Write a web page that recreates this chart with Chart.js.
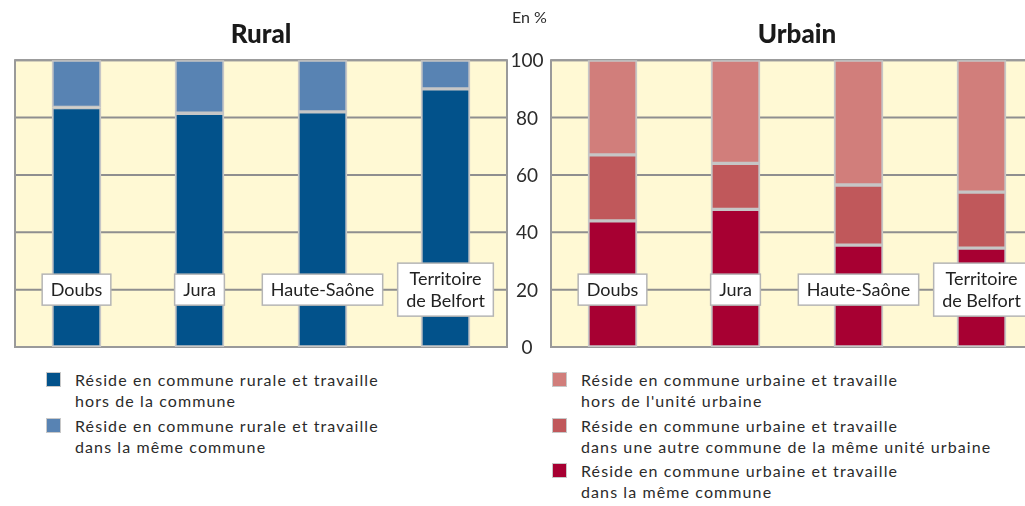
<!DOCTYPE html>
<html>
<head>
<meta charset="utf-8">
<script src="https://cdn.jsdelivr.net/npm/chart.js@4"></script>
<style>
  html, body { margin: 0; padding: 0; background: #fff; overflow: hidden; }
  body { width: 1025px; height: 506px; position: relative; font-family: Lato, sans-serif; color: #2b2b2b; }
  canvas { position: absolute; top: 0; }
  #rural { left: 0; }
  #urbain { left: 500px; }
  #unit { position: absolute; left: 512px; top: 7px; font-size: 16px; }
  .legend { position: absolute; top: 369px; font-size: 16px; line-height: 21px; letter-spacing: 1.1px; }
  .legend .item { position: relative; padding-left: 29px; margin-bottom: 3.5px; }
  .legend .sw { position: absolute; left: 0; top: 3px; width: 13px; height: 13px; border: 1px solid #c8c8c8; }
</style>
</head>
<body>
<canvas id="rural" width="520" height="360"></canvas>
<canvas id="urbain" width="550" height="360"></canvas>
<div id="unit">En %</div>
<div class="legend" id="legRural" style="left:46px"></div>
<div class="legend" id="legUrbain" style="left:552px"></div>
<script>
// categories and values (percent)
const categories = ['Doubs', 'Jura', 'Haute-Saône', ['Territoire', 'de Belfort']];
const yTicks = [0, 20, 40, 60, 80, 100];

// Rural
const ruralHorsCommune = [83.5, 81.5, 82, 90];
const ruralMemeCommune = [16.5, 18.5, 18, 10];

// Urbain
const urbainMemeCommune = [44, 48, 35.5, 34.5];
const urbainAutreCommune = [23, 16, 21, 19.5];
const urbainHorsUnite = [33, 36, 43.5, 46];

const labelY = 20; // value where category boxes sit

const frame = {
  id: 'frame',
  beforeDatasetsDraw(chart, args, opts) {
    const { ctx, chartArea: a, scales: { y } } = chart;
    ctx.save();
    ctx.fillStyle = '#fff9d4';
    ctx.fillRect(a.left, a.top, a.width, a.height);
    ctx.strokeStyle = '#8f8f8f';
    ctx.lineWidth = 2;
    yTicks.forEach(v => {
      const py = y.getPixelForValue(v);
      ctx.beginPath();
      ctx.moveTo(a.left, py);
      ctx.lineTo(a.right, py);
      ctx.stroke();
    });
    ctx.strokeStyle = '#9a9a9a';
    ctx.strokeRect(a.left, a.top, a.width, a.height);
    if (opts.tickLabels) {
      ctx.fillStyle = '#2b2b2b';
      ctx.font = '19px Lato';
      ctx.textAlign = 'center';
      ctx.textBaseline = 'middle';
      yTicks.forEach(v => ctx.fillText(String(v), a.left - 24, y.getPixelForValue(v) + 1));
    }
    ctx.restore();
  },
  afterDatasetsDraw(chart) {
    const { ctx, scales: { x, y } } = chart;
    ctx.save();
    ctx.font = '18px Lato';
    ctx.textAlign = 'center';
    ctx.textBaseline = 'middle';
    const cy = y.getPixelForValue(labelY);
    categories.forEach((c, i) => {
      const lines = Array.isArray(c) ? c : [c];
      const w = Math.max(...lines.map(l => ctx.measureText(l).width)) + 17;
      const h = lines.length === 1 ? 31 : 53;
      const cx = x.getPixelForValue(i);
      ctx.fillStyle = '#fff';
      ctx.fillRect(cx - w / 2, cy - h / 2, w, h);
      ctx.strokeStyle = '#b5b5b5';
      ctx.lineWidth = 1.5;
      ctx.strokeRect(cx - w / 2, cy - h / 2, w, h);
      ctx.fillStyle = '#222';
      lines.forEach((l, k) => {
        ctx.fillText(l, cx, cy + (k - (lines.length - 1) / 2) * 22 + 1);
      });
    });
    ctx.restore();
  }
};

function makeChart(id, title, datasets, padding, tickLabels) {
  return new Chart(document.getElementById(id), {
    type: 'bar',
    data: {
      labels: categories,
      datasets: datasets.map(d => ({
        label: d.label.join(' '),
        data: d.data,
        backgroundColor: d.color,
        borderColor: '#c6c6c6',
        borderWidth: 2,
        borderSkipped: false,
        barThickness: 49
      }))
    },
    options: {
      responsive: false,
      animation: false,
      layout: { padding: padding },
      plugins: {
        legend: { display: false },
        tooltip: { enabled: false },
        title: {
          display: true,
          text: title,
          color: '#1a1a1a',
          font: { family: 'Lato', size: 26, weight: '900', lineHeight: 1.2 },
          padding: { top: 19, bottom: 10 }
        },
        frame: { tickLabels: tickLabels }
      },
      scales: {
        x: { display: false, stacked: true },
        y: { display: false, stacked: true, min: 0, max: 100 }
      }
    },
    plugins: [frame]
  });
}

const ruralSets = [
  { label: ['Réside en commune rurale et travaille', 'hors de la commune'], data: ruralHorsCommune, color: '#02528b' },
  { label: ['Réside en commune rurale et travaille', 'dans la même commune'], data: ruralMemeCommune, color: '#5883b3' }
];
const urbainSets = [
  { label: ['Réside en commune urbaine et travaille', 'dans la même commune'], data: urbainMemeCommune, color: '#a70032' },
  { label: ['Réside en commune urbaine et  travaille', 'dans une autre commune de la même unité urbaine'], data: urbainAutreCommune, color: '#c0585b' },
  { label: ['Réside en commune urbaine et travaille', "hors de l'unité urbaine"], data: urbainHorsUnite, color: '#d17e7b' }
];

makeChart('rural', 'Rural', ruralSets, { left: 15, right: 13, top: 0, bottom: 13 }, false);
makeChart('urbain', 'Urbain', urbainSets, { left: 51, right: 7, top: 0, bottom: 13 }, true);

function buildLegend(el, sets) {
  sets.forEach(s => {
    const item = document.createElement('div');
    item.className = 'item';
    const sw = document.createElement('span');
    sw.className = 'sw';
    sw.style.background = s.color;
    item.appendChild(sw);
    s.label.forEach((line, i) => {
      if (i) item.appendChild(document.createElement('br'));
      item.appendChild(document.createTextNode(line));
    });
    el.appendChild(item);
  });
}
buildLegend(document.getElementById('legRural'), ruralSets);
buildLegend(document.getElementById('legUrbain'), urbainSets.slice().reverse());
</script>
</body>
</html>
